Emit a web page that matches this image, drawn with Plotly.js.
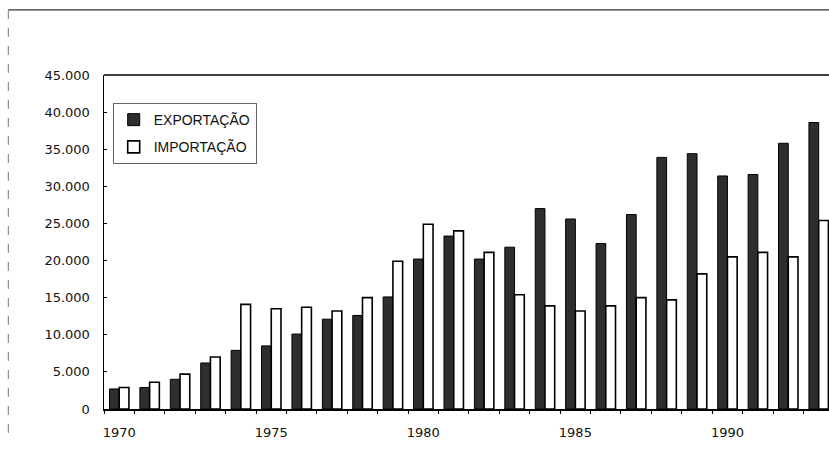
<!DOCTYPE html>
<html>
<head>
<meta charset="utf-8">
<script src="https://cdn.plot.ly/plotly-3.0.1.min.js"></script>
<style>html,body{margin:0;padding:0;background:#fff;}#chart{width:829px;height:450px;}</style>
</head>
<body>
<div id="chart"></div>
<script>
const years = [1970,1971,1972,1973,1974,1975,1976,1977,1978,1979,1980,1981,1982,1983,1984,1985,1986,1987,1988,1989,1990,1991,1992,1993];
const exportacao = [2700,2900,4000,6200,7900,8500,10100,12100,12600,15100,20200,23300,20200,21800,27000,25600,22300,26200,33900,34400,31400,31600,35800,38600];
const importacao = [2900,3600,4700,7000,14100,13500,13700,13200,15000,19900,24900,24000,21100,15400,13900,13200,13900,15000,14700,18200,20500,21100,20500,25400];
const yTicks = [0,5000,10000,15000,20000,25000,30000,35000,40000,45000];
const xTicks = [1970,1975,1980,1985,1990];

const font = {family: 'DejaVu Sans, Arial, sans-serif', size: 13, color: '#111'};

const data = [
  {type: 'bar', name: 'EXPORTAÇÃO', x: years, y: exportacao, legendgroup: 'a',
   marker: {color: '#2e2e2e', line: {color: '#000', width: 1}}},
  {type: 'bar', name: 'IMPORTAÇÃO', x: years, y: importacao, legendgroup: 'b',
   marker: {color: '#ffffff', line: {color: '#000', width: 1.6}}}
];

const layout = {
  width: 829, height: 450,
  margin: {l: 104, r: 0, t: 75, b: 41, pad: 0},
  paper_bgcolor: '#fff', plot_bgcolor: '#fff',
  separators: ',.',
  font: font,
  barmode: 'group', bargap: 0.36, bargroupgap: 0,
  showlegend: true,
  legend: {x: 0.012, y: 0.916, xanchor: 'left', yanchor: 'top',
           bgcolor: '#fff', bordercolor: '#666', borderwidth: 1,
           font: {family: 'Liberation Sans, Arial, sans-serif', size: 14, color: '#111'},
           traceorder: 'grouped', tracegroupgap: 6, itemwidth: 30},
  xaxis: {range: [1969.5, 1993.34], tickvals: xTicks, ticktext: xTicks.map(String),
          showgrid: false, zeroline: false, showline: true, linecolor: '#000', linewidth: 1.5,
          ticks: '', tickfont: font, ticklabelstandoff: 11,
          minor: {ticks: 'outside', tick0: 1969.5, dtick: 1, ticklen: 3, tickcolor: '#000', showgrid: false}},
  yaxis: {range: [0, 45000], tickvals: yTicks, tickformat: ',d',
          showgrid: false, zeroline: false, showline: true, linecolor: '#000', linewidth: 1.5,
          ticks: 'inside', ticklen: 3, tickcolor: '#000', ticklabelstandoff: 10, tickfont: font},
  shapes: [
    {type: 'line', xref: 'paper', yref: 'paper', x0: 0, x1: 1.0, y0: 1, y1: 1,
     line: {color: '#000', width: 1.5}},
    {type: 'line', xref: 'paper', yref: 'paper', x0: -0.132, x1: 1.0, y0: 1.195, y1: 1.195,
     line: {color: '#333', width: 1.2}},
    {type: 'line', xref: 'paper', yref: 'paper', x0: -0.132, x1: -0.132, y0: 1.195, y1: -0.093,
     line: {color: '#777', width: 1, dash: 'dash'}}
  ]
};

Plotly.newPlot('chart', data, layout, {displayModeBar: false, staticPlot: true});
</script>
</body>
</html>
